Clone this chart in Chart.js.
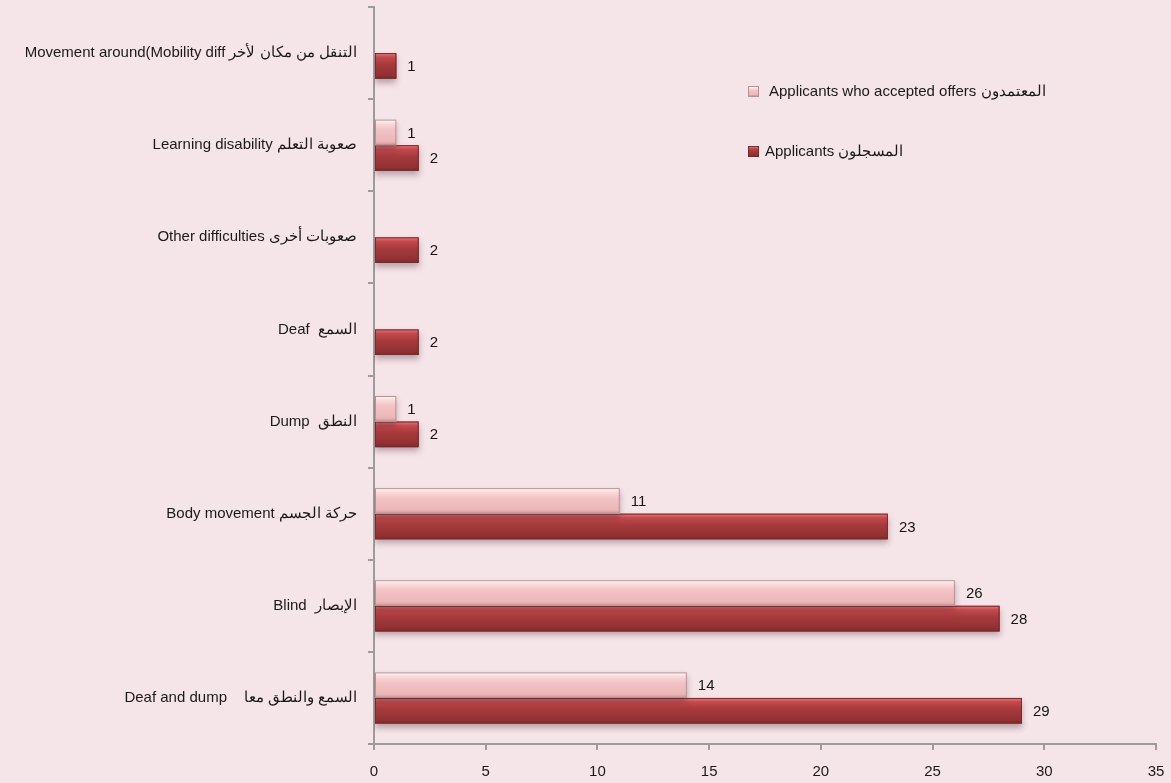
<!DOCTYPE html>
<html lang="en">
<head>
  <meta charset="UTF-8" />
  <title>Applicants by disability</title>
  <script src="https://cdn.jsdelivr.net/npm/chart.js"></script>
  <style>
    body { margin: 0; background: #F5E4E8; font-family: 'Liberation Sans', Arial, sans-serif; }
    .wrap { position: relative; width: 1171px; height: 783px; }
    .legend { position: absolute; left: 748px; top: 82px; font-size: 15px; color: #1a1a1a; }
    .legend div { position: absolute; white-space: nowrap; display: flex; align-items: center; }
    .legend span.box { display: inline-block; width: 9px; height: 9px; }
  </style>
</head>
<body>
  <div class="wrap">
    <canvas id="chart" width="1171" height="783"></canvas>
    <div class="legend" id="legend"></div>
  </div>

  <script>
    // categories, top to bottom
    const categories = [
      'Movement around(Mobility diff التنقل من مكان لأخر',
      'Learning disability صعوبة التعلم',
      'Other difficulties صعوبات أخرى',
      'Deaf  السمع',
      'Dump  النطق',
      'Body movement حركة الجسم',
      'Blind  الإبصار',
      'Deaf and dump    السمع والنطق معا'
    ];
    const seriesNames = ['Applicants who accepted offers المعتمدون', 'Applicants المسجلون'];
    const accepted = [null, 1, null, null, 1, 11, 26, 14];
    const applicants = [1, 2, 2, 2, 2, 23, 28, 29];
    const xMin = 0, xMax = 35, xStep = 5;

    const FONT = "'Liberation Sans', Arial, sans-serif";
    const shades = [
      { base: '#F2C2C4', border: '#B99193',
        stops: [[0, '#FFFFFF'], [0.14, '#FADCDD'], [0.4, '#F2C2C4'], [0.85, '#ECB6B8'], [1, '#C79698']] },
      { base: '#A63B3D', border: '#7A2A2C',
        stops: [[0, '#E67C7E'], [0.16, '#C4494C'], [0.45, '#A53A3C'], [0.85, '#943133'], [1, '#7B292B']] }
    ];

    function grad(ctx, y0, y1, stops) {
      const g = ctx.createLinearGradient(0, y0, 0, y1);
      stops.forEach(s => g.addColorStop(s[0], s[1]));
      return g;
    }

    // soft shadow under the bars + shaded fill
    const barShade = {
      id: 'barShade',
      beforeDatasetDraw(chart, args) {
        const ctx = chart.ctx;
        ctx.save();
        ctx.shadowColor = 'rgba(70,40,45,0.35)';
        ctx.shadowBlur = 6;
        ctx.shadowOffsetY = 4;
      },
      afterDatasetDraw(chart, args) {
        const ctx = chart.ctx;
        ctx.restore();
        const sh = shades[args.index];
        args.meta.data.forEach((bar, i) => {
          const v = chart.data.datasets[args.index].data[i];
          if (v == null) return;
          const { x, y, base, height } = bar.getProps(['x', 'y', 'base', 'height'], true);
          const top = y - height / 2;
          ctx.save();
          ctx.fillStyle = grad(ctx, top, top + height, sh.stops);
          ctx.fillRect(base, top, x - base, height);
          ctx.strokeStyle = sh.border;
          ctx.lineWidth = 1;
          ctx.strokeRect(base + 0.5, top + 0.5, x - base - 1, height - 1);
          ctx.restore();
        });
      }
    };

    const valueLabels = {
      id: 'valueLabels',
      afterDatasetsDraw(chart) {
        const ctx = chart.ctx;
        ctx.save();
        ctx.font = '15px ' + FONT;
        ctx.fillStyle = '#151515';
        ctx.textAlign = 'left';
        ctx.textBaseline = 'middle';
        chart.data.datasets.forEach((ds, di) => {
          chart.getDatasetMeta(di).data.forEach((bar, i) => {
            const v = ds.data[i];
            if (v == null) return;
            ctx.fillText(String(v), bar.x + 11, bar.y + 1);
          });
        });
        ctx.restore();
      }
    };

    const chart = new Chart(document.getElementById('chart'), {
      type: 'bar',
      data: {
        labels: categories,
        datasets: [
          { label: seriesNames[0], data: accepted, backgroundColor: shades[0].base },
          { label: seriesNames[1], data: applicants, backgroundColor: shades[1].base }
        ]
      },
      options: {
        indexAxis: 'y',
        responsive: false,
        animation: false,
        categoryPercentage: 0.555,
        barPercentage: 1,
        layout: { padding: { top: 7, right: 15, left: 0, bottom: 0 } },
        plugins: { legend: { display: false }, tooltip: { enabled: false } },
        scales: {
          x: {
            min: xMin, max: xMax,
            ticks: { stepSize: xStep, font: { size: 15, family: FONT }, color: '#1a1a1a', padding: 13 },
            grid: { drawOnChartArea: false, tickLength: 6, color: '#9c9c9c', lineWidth: 2 },
            border: { color: '#9c9c9c', width: 2 },
            afterFit(scale) { scale.height = 39; scale.paddingLeft = 0; scale.paddingRight = 0; }
          },
          y: {
            ticks: { font: { size: 15, family: FONT }, color: '#1a1a1a', padding: 11 },
            grid: { offset: true, drawOnChartArea: false, tickLength: 6, color: '#9c9c9c', lineWidth: 2 },
            border: { color: '#9c9c9c', width: 2 },
            afterFit(scale) { scale.width = 374; scale.paddingTop = 0; scale.paddingBottom = 0; }
          }
        }
      },
      plugins: [barShade, valueLabels]
    });

    // legend, built from the datasets
    const legend = document.getElementById('legend');
    const legendTops = [0, 60];
    const legendGaps = [10, 6];
    chart.data.datasets.forEach((ds, i) => {
      const row = document.createElement('div');
      row.style.top = legendTops[i] + 'px';
      const box = document.createElement('span');
      box.className = 'box';
      box.style.background = 'linear-gradient(' + shades[i].stops.map(s => s[1] + ' ' + (s[0] * 100) + '%').join(', ') + ')';
      box.style.border = '1px solid ' + shades[i].border;
      box.style.marginRight = legendGaps[i] + 'px';
      const txt = document.createElement('span');
      txt.textContent = ds.label;
      row.appendChild(box);
      row.appendChild(txt);
      legend.appendChild(row);
    });
  </script>
</body>
</html>
